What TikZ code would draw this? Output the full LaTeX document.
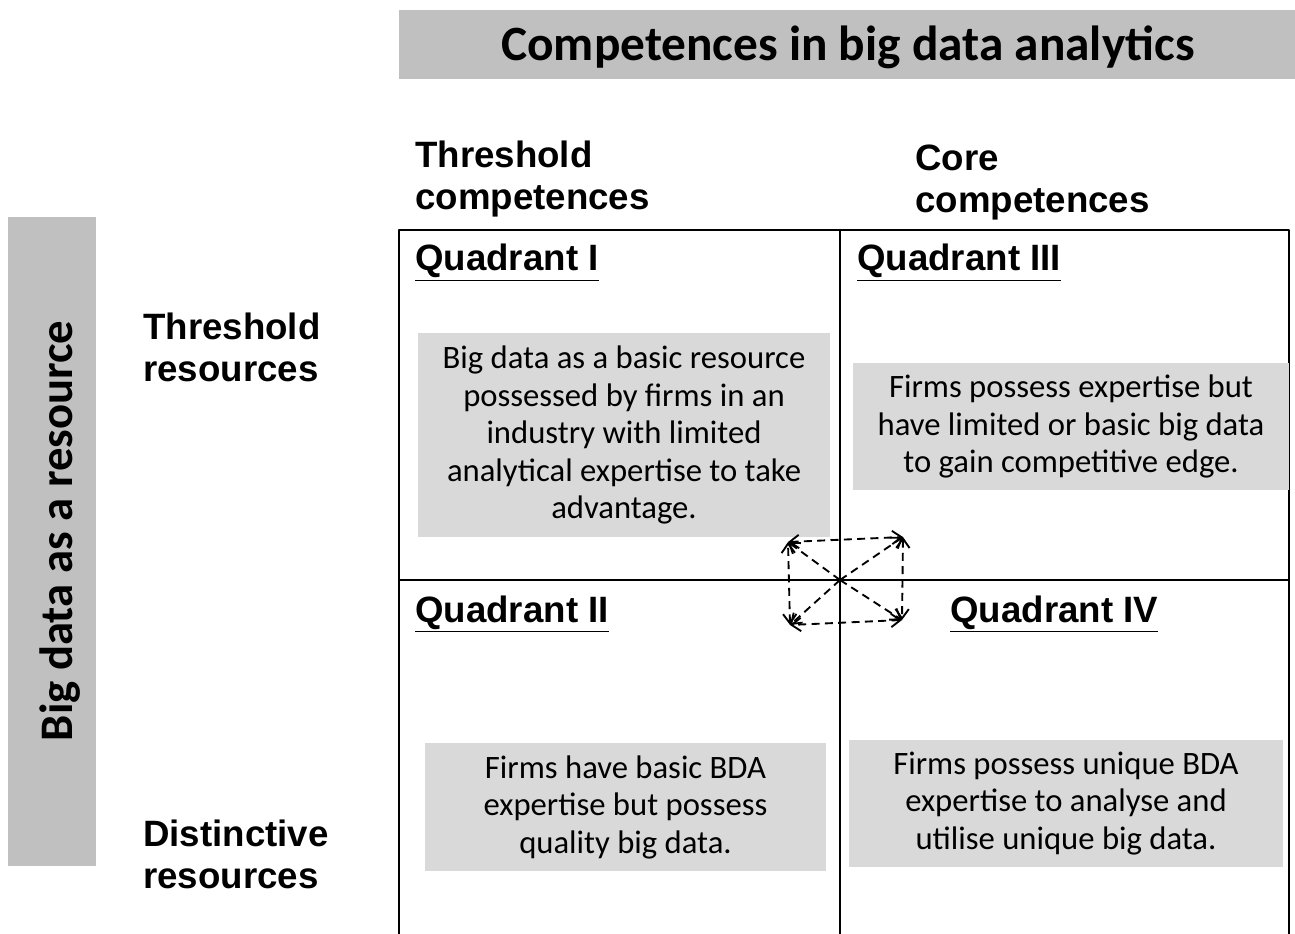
\documentclass[tikz,border=0pt]{standalone}
\usepackage{fontspec}
\setmainfont{Carlito}
\newfontfamily\arialfont{Liberation Sans}
\usetikzlibrary{arrows.meta}
\definecolor{bargray}{RGB}{192,192,192}
\definecolor{boxgray}{RGB}{217,217,217}

\begin{document}
\begin{tikzpicture}[line cap=round,line join=round,x=0.75pt,y=-0.75pt,
        heading/.style={font=\arialfont\bfseries\fontsize{27.5}{31.5}\selectfont,anchor=base west,inner sep=0pt,align=left},
        descbox/.style={fill=boxgray,inner sep=0pt,align=center,font=\fontsize{24.5}{28.1}\selectfont},
        flow/.style={dash pattern=on 6pt off 4pt,line width=1.4pt,line cap=butt,{Straight Barb[length=7pt,width=10pt]}-{Straight Barb[length=7pt,width=10pt]}},
        spoke/.style={dash pattern=on 6pt off 4pt,line width=1.4pt,line cap=butt,-{Straight Barb[length=7pt,width=10pt]}},
        grid/.style={line width=1.2pt}]
                \useasboundingbox (0,0) rectangle (1295,934);
                % grey bars
                \node [fill=bargray,inner sep=0pt,minimum width=672pt,minimum height=51.75pt] (titlebar) at (847,44.5) {};
                \node [font=\bfseries\fontsize{37}{40}\selectfont,anchor=base,inner sep=0pt] (title) at (848,61) {Competences in big data analytics};
                \node [fill=bargray,inner sep=0pt,minimum width=66pt,minimum height=486.75pt] (sidebar) at (52,541.5) {};
                \node [font=\bfseries\fontsize{35}{38}\selectfont,anchor=base,rotate=90,inner sep=0pt] (side) at (72,531) {Big data as a resource};
                % axis labels
                \node [heading] (thrcomp) at (415,210) {Threshold\\competences};
                \node [heading] (corecomp) at (915,213) {Core\\competences};
                \node [heading] (thrres) at (143,381) {Threshold\\resources};
                \node [heading] (distres) at (143,888) {Distinctive\\resources};
                % grid
                \draw [grid] (399,934) -- (399,230) -- (1289,230) -- (1289,934);
                \draw [grid] (840,230) -- (840,934);
                \draw [grid] (399,580) -- (1289,580);
                % quadrant titles
                \node [heading] (q1) at (415,271) {\underline{Quadrant I}};
                \node [heading] (q3) at (857,271) {\underline{Quadrant III}};
                \node [heading] (q2) at (415,622) {\underline{Quadrant II}};
                \node [heading] (q4) at (950,622) {\underline{Quadrant IV}};
                % descriptions
                \node [descbox,minimum width=309pt,minimum height=153pt,text depth=4pt] (d1) at (624,435) {Big data as a basic resource\\possessed by firms in an\\industry with limited\\analytical expertise to take\\advantage.};
                \node [descbox,minimum width=327pt,minimum height=95.25pt] (d3) at (1071,426.5) {Firms possess expertise but\\have limited or basic big data\\to gain competitive edge.};
                \node [descbox,minimum width=300.75pt,minimum height=96pt] (d2) at (625.5,807) {Firms have basic BDA\\expertise but possess\\quality big data.};
                \node [descbox,minimum width=325.5pt,minimum height=95.25pt] (d4) at (1066,803.5) {Firms possess unique BDA\\expertise to analyse and\\utilise unique big data.};
                % movement arrows
                \coordinate (ctr) at (840,580);
                \coordinate (tl) at (788,542);
                \coordinate (tr) at (903,537);
                \coordinate (bl) at (790,625);
                \coordinate (br) at (902,620);
                \draw [flow] (tl) -- (tr);
                \draw [flow] (tr) -- (br);
                \draw [flow] (br) -- (bl);
                \draw [flow] (bl) -- (tl);
                \foreach \c in {tl,tr,bl,br}
                    \draw [spoke] (ctr) -- (\c);
\end{tikzpicture}
\end{document}
